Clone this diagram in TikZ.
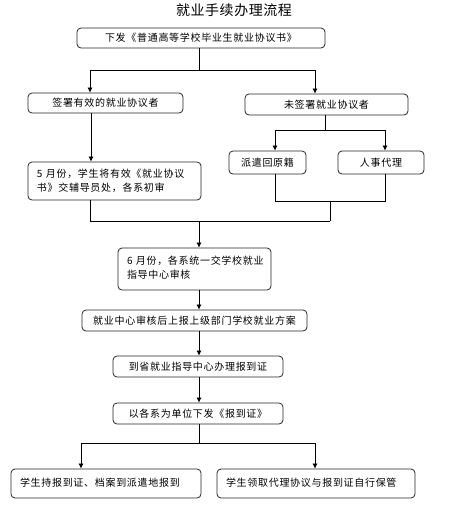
\documentclass[tikz,border=0pt]{standalone}
\usepackage{fontspec}
\setmainfont{Noto Sans CJK SC}[LetterSpace=7]
\newfontfamily\titlefont{Noto Sans CJK SC}[LetterSpace=4]
\usetikzlibrary{arrows.meta}
\begin{document}
\begin{tikzpicture}[x=1pt,y=-1pt,
  box/.style={draw=black!85, line width=0.8pt, rounded corners=4pt, inner sep=0pt, font=\fontsize{10}{14}\selectfont},
  conn/.style={draw=black, line width=0.7pt},
  arr/.style={conn, -{Latex[length=5pt,width=5pt]}}]
\useasboundingbox (0,0) rectangle (449,523);
\node[font=\titlefont\fontsize{14}{16}\selectfont] (title) at (234,10) {就业手续办理流程};
\node[box, minimum width=248, minimum height=20] (b1) at (201,38) {下发《普通高等学校毕业生就业协议书》};
\node[box, minimum width=155, minimum height=20] (bL) at (105.5,103) {签署有效的就业协议者};
\node[box, minimum width=163, minimum height=21] (bR) at (326.5,104.5) {未签署就业协议者};
\node[box, text width=155, inner xsep=9pt, minimum height=38, align=left] (b5) at (114.5,181) {\mbox{5~月份，学生将有效《就业协议}\\\mbox{书》交辅导员处，各系初审}};
\node[box, minimum width=77, minimum height=23] (bP) at (267.5,162.5) {派遣回原籍};
\node[box, minimum width=86, minimum height=23] (bH) at (381,162.5) {人事代理};
\node[box, text width=135, inner xsep=9pt, minimum height=42, align=left] (b6) at (194.5,269) {\raisebox{3pt}{\begin{tabular}{@{}l@{}}6~月份，各系统一交学校就业\\指导中心审核\end{tabular}}};
\node[box, minimum width=225, minimum height=21] (b7) at (194.5,320.5) {就业中心审核后上报上级部门学校就业方案};
\node[box, minimum width=170, minimum height=21] (b8) at (198,366.5) {到省就业指导中心办理报到证};
\node[box, minimum width=170, minimum height=21] (b9) at (198,413.5) {以各系为单位下发《报到证》};
\node[box, text width=172, inner xsep=9pt, minimum height=29, align=left] (bA) at (106,483.5) {\raisebox{3pt}{学生持报到证、档案到派遣地报到}};
\node[box, text width=180, inner xsep=9pt, minimum height=29, align=left] (bB) at (316,483.5) {\raisebox{3pt}{学生领取代理协议与报到证自行保管}};
% junctions
\coordinate (j1) at (199,70);
\coordinate (j1l) at (90,70);
\coordinate (j1r) at (315,70);
\coordinate (j2) at (325,130);
\coordinate (j2l) at (275,130);
\coordinate (j2r) at (385,130);
\coordinate (j3l) at (275,201);
\coordinate (j3r) at (385,201);
\coordinate (j3) at (330,201);
\coordinate (j4r) at (330,221);
\coordinate (j4l) at (90,221);
\coordinate (j4) at (199,221);
\coordinate (j5) at (199,443);
\coordinate (j5l) at (81,443);
\coordinate (j5r) at (315,443);
% connectors
\draw[conn] (b1.south -| j1) -- (j1);
\draw[conn] (j1l) -- (j1r);
\draw[arr] (j1l) -- (j1l |- bL.north);
\draw[arr] (j1r) -- (j1r |- bR.north);
\draw[arr] (bL.south -| 91,0) -- (b5.north -| 91,0);
\draw[conn] (bR.south -| j2) -- (j2);
\draw[conn] (j2l) -- (j2r);
\draw[arr] (j2l) -- (j2l |- bP.north);
\draw[arr] (j2r) -- (j2r |- bH.north);
\draw[conn] (bP.south -| j3l) -- (j3l) -- (j3r) -- (bH.south -| j3r);
\draw[conn] (j3) -- (j4r);
\draw[conn] (b5.south -| j4l) -- (j4l) -- (j4r);
\draw[arr] (j4) -- (j4 |- b6.north);
\draw[arr] (b6.south -| j4) -- (b7.north -| j4);
\draw[arr] (b7.south -| j4) -- (b8.north -| j4);
\draw[arr] (b8.south -| j4) -- (b9.north -| j4);
\draw[conn] (b9.south -| j5) -- (j5);
\draw[conn] (j5l) -- (j5r);
\draw[arr] (j5l) -- (j5l |- bA.north);
\draw[arr] (j5r) -- (j5r |- bB.north);
\end{tikzpicture}
\end{document}
